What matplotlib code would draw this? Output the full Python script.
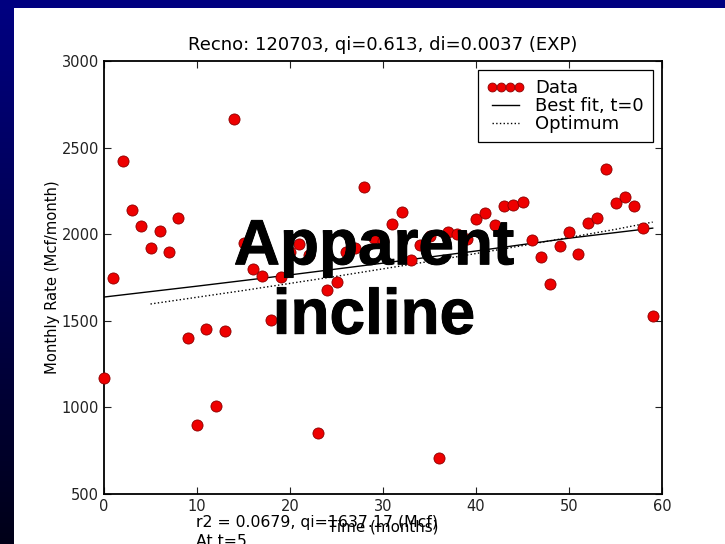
import matplotlib
matplotlib.use('Agg')
import matplotlib.pyplot as plt
import matplotlib.patheffects as pe
import numpy as np
from matplotlib.colors import LinearSegmentedColormap
from matplotlib.patches import Rectangle

# monthly production record
months = np.arange(60)
rate = [1170, 1750, 2420, 2140, 2045, 1920, 2020, 1900, 2095, 1400,
        900, 1455, 1010, 1440, 2665, 1950, 1800, 1760, 1505, 1755,
        1900, 1945, 1880, 850, 1680, 1725, 1900, 1920, 2275, 1980,
        1960, 2060, 2130, 1850, 1940, 1990, 710, 2010, 2000, 1975,
        2090, 2120, 2055, 2160, 2170, 2185, 1965, 1870, 1710, 1930,
        2010, 1885, 2065, 2095, 2375, 2180, 2215, 2160, 2035, 1530]

# fitted curves
fit_t = [0, 10, 20, 30, 40, 50, 59]
fit_q = [1637.17, 1700, 1765, 1833, 1903, 1977, 2035]
opt_t = [5, 15, 25, 35, 45, 55, 59]
opt_q = [1597, 1675, 1757, 1843, 1934, 2028, 2070]

W, H = 725, 544
fig = plt.figure(figsize=(W/100., H/100.), dpi=100)
fig.patch.set_facecolor('#000080')

# slide background: navy band on top, fading strip on the left
bg = fig.add_axes([0, 0, 1, 1], zorder=-10)
bg.axis('off')
bg.add_patch(Rectangle((0, 0), W, 8, color='#000080', lw=0))
cmap = LinearSegmentedColormap.from_list('slide', ['#000080', '#000018'])
grad = np.linspace(0, 1, 256).reshape(-1, 1)
bg.imshow(grad, cmap=cmap, extent=(0, 14, H, 8), aspect='auto')
bg.add_patch(Rectangle((14, 8), W-14, H-8, color='white', lw=0))
bg.set_xlim(0, W)
bg.set_ylim(H, 0)

ax = fig.add_axes([104./W, 1-494./H, (662-104.)/W, (494-61.)/H])
ax.plot(months, rate, 'o', color='#ee0000', markeredgecolor='#8b0000',
        markeredgewidth=0.6, markersize=8, label='Data', clip_on=False, zorder=3)
ax.plot(fit_t, fit_q, '-', color='black', lw=1, label='Best fit, t=0')
ax.plot(opt_t, opt_q, ':', color='black', lw=1, label='Optimum')

ax.set_xlim(0, 60)
ax.set_ylim(500, 3000)
ax.set_xticks([0, 10, 20, 30, 40, 50, 60])
ax.set_yticks([500, 1000, 1500, 2000, 2500, 3000])
ax.tick_params(direction='in', top=True, right=True, length=5, width=0.8,
               labelsize=10.5, colors='#222222')
for s in ax.spines.values():
    s.set_linewidth(1.3)

ax.set_title('Recno: 120703, qi=0.613, di=0.0037 (EXP)', fontsize=13, pad=8)
ax.set_ylabel('Monthly Rate (Mcf/month)', fontsize=10.6, labelpad=1)
ax.set_xlabel('Time (months)', fontsize=10.9, labelpad=4)

leg = ax.legend(loc='upper right', numpoints=4, fontsize=13, fancybox=False,
                framealpha=1, edgecolor='black', borderaxespad=0.5,
                handlelength=2.1, handletextpad=0.6, borderpad=0.5,
                labelspacing=0.0, markerscale=0.8)
leg.get_frame().set_linewidth(0.9)

fig.text(196./W, 1-522./H, 'r2 = 0.0679, qi=1637.17 (Mcf)', fontsize=11.3,
         va='center', ha='left')
fig.text(196./W, 1-542./H, 'At t=5', fontsize=11.3, va='center', ha='left')

fig.text(374./W, 1-282./H, 'Apparent\nincline', family='Liberation Sans',
         fontweight='bold', fontsize=46, ha='center', va='center',
         linespacing=1.2,
         path_effects=[pe.withStroke(linewidth=0.7, foreground='black')])

fig.savefig('out.png', dpi=100)
